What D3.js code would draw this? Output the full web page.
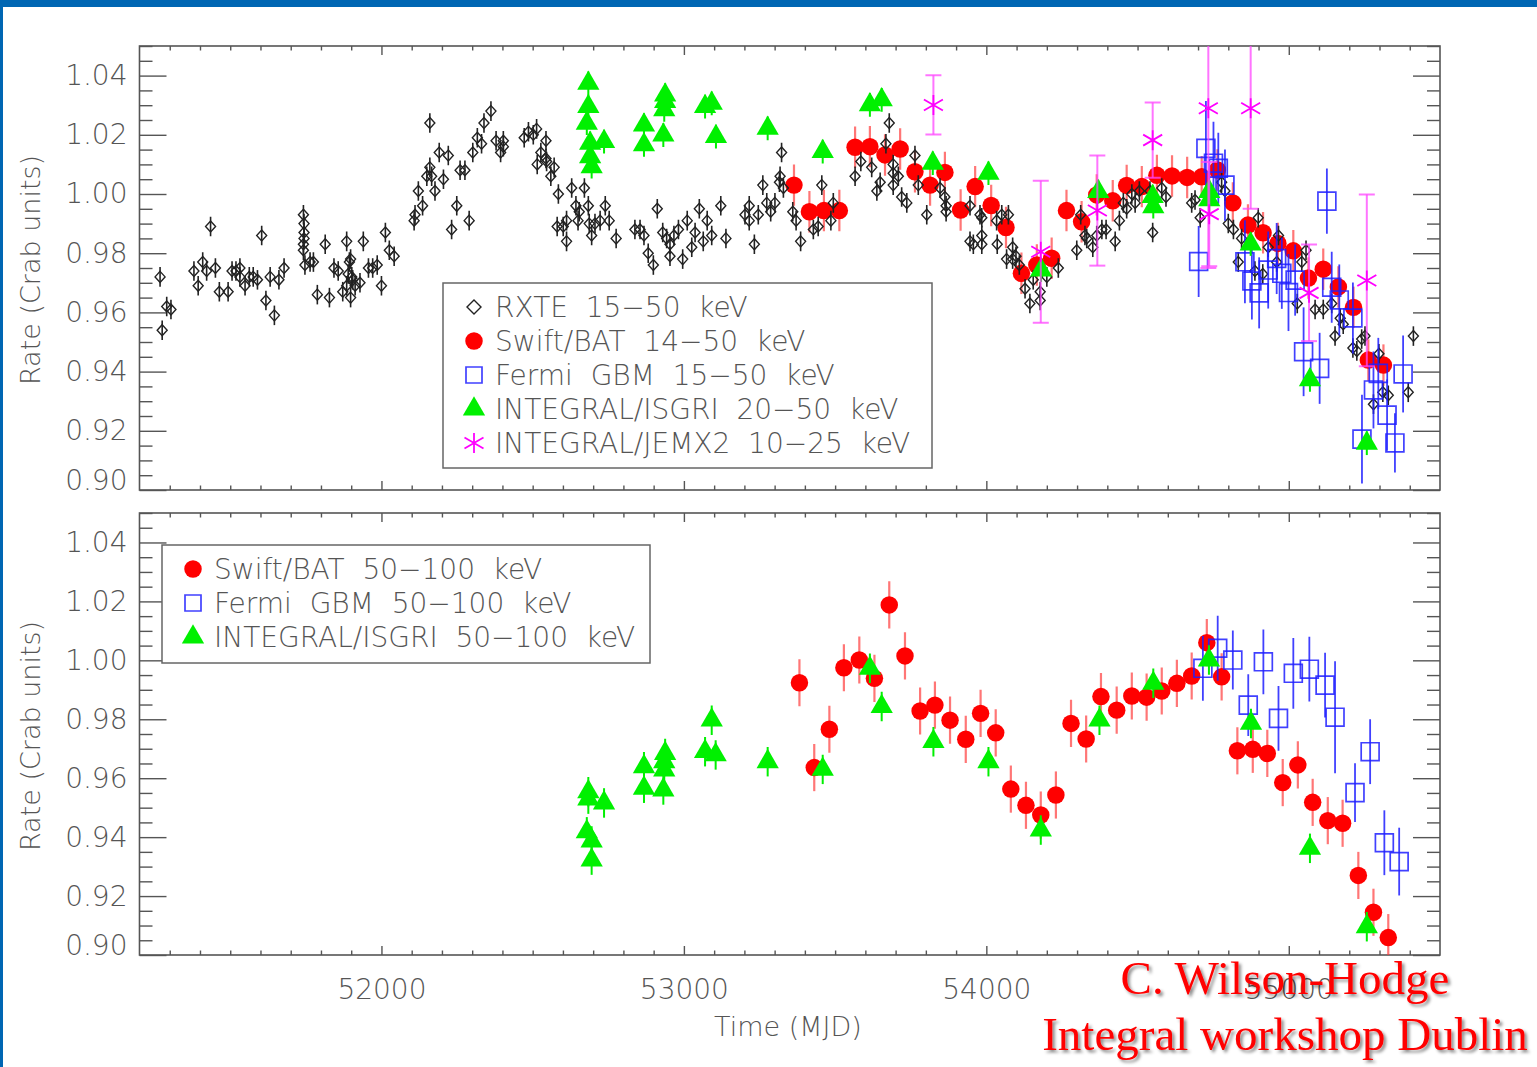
<!DOCTYPE html>
<html>
<head>
<meta charset="utf-8">
<script src="https://cdn.jsdelivr.net/npm/d3@7"></script>
<style>
  body { margin: 0; background: #fff; }
  svg { display: block; }
  text { font-family: "DejaVu Sans", "Liberation Sans", sans-serif; }
</style>
</head>
<body>
<svg id="chart" width="1537" height="1067"></svg>
<script>
// ---- data: [MJD, rate in Crab units] ----
const rxte15to50 = [
  [51268,0.972],[51275,0.954],[51290,0.962],[51304,0.961],[51380,0.974],[51394,0.969],[51409,0.977],
  [51422,0.974],[51435,0.989],[51451,0.975],[51464,0.967],[51493,0.967],[51506,0.974],[51519,0.974],
  [51532,0.975],[51532,0.972],[51549,0.969],[51563,0.972],[51576,0.972],[51590,0.971],[51604,0.986],
  [51618,0.964],[51632,0.972],[51646,0.959],[51661,0.971],[51678,0.975],[51742,0.993],[51744,0.990],
  [51744,0.987],[51744,0.985],[51742,0.983],[51742,0.981],[51747,0.976],[51764,0.977],[51775,0.977],
  [51788,0.966],[51814,0.983],[51828,0.965],[51843,0.975],[51857,0.974],[51872,0.967],[51885,0.984],
  [51885,0.969],[51894,0.977],[51898,0.978],[51890,0.973],[51902,0.972],[51905,0.971],[51898,0.965],
  [51913,0.969],[51929,0.970],[51940,0.984],[51957,0.975],[51971,0.975],[51986,0.976],[52000,0.969],
  [52013,0.987],[52026,0.981],[52042,0.979],[52108,0.991],[52111,0.993],[52122,1.001],[52136,0.996],
  [52150,1.006],[52160,1.024],[52160,1.009],[52166,1.006],[52177,1.001],[52191,1.014],[52205,1.005],
  [52221,1.013],[52232,0.988],[52249,0.996],[52260,1.008],[52276,1.008],[52290,0.991],[52302,1.014],
  [52317,1.019],[52331,1.017],[52339,1.024],[52362,1.028],[52379,1.018],[52394,1.014],[52403,1.018],
  [52403,1.016],[52472,1.019],[52486,1.021],[52502,1.020],[52513,1.022],[52515,1.010],[52527,1.014],
  [52544,1.018],[52544,1.012],[52546,1.011],[52560,1.006],[52571,1.009],[52585,1.000],[52581,0.989],
  [52601,0.989],[52612,0.991],[52612,0.984],[52629,1.002],[52643,0.996],[52650,0.991],[52654,0.994],
  [52671,1.002],[52684,0.996],[52687,0.990],[52695,0.986],[52706,0.990],[52723,0.991],[52740,0.996],
  [52753,0.991],[52776,0.985],[52838,0.988],[52855,0.988],[52868,0.986],[52882,0.980],[52899,0.976],
  [52912,0.995],[52930,0.987],[52943,0.985],[52954,0.983],[52954,0.979],[52967,0.986],[52982,0.988],
  [52996,0.978],[53011,0.991],[53026,0.982],[53037,0.987],[53051,0.995],[53064,0.984],[53077,0.991],
  [53092,0.986],[53122,0.996],[53139,0.985],[53202,0.993],[53216,0.996],[53216,0.991],[53233,0.983],
  [53246,0.993],[53261,1.003],[53274,0.997],[53287,0.994],[53301,0.997],[53316,1.004],[53318,1.006],
  [53323,1.014],[53329,1.002],[53360,0.994],[53371,0.991],[53386,0.984],[53428,0.988],[53444,0.989],
  [53456,1.003],[53486,0.991],[53494,0.997],[53566,1.006],[53585,1.011],[53621,1.009],[53638,1.001],
  [53649,1.004],[53668,1.017],[53679,1.024],[53692,1.010],[53692,1.007],[53692,1.003],[53709,1.006],
  [53720,0.999],[53737,0.997],[53764,1.013],[53775,1.003],[53803,0.993],[53847,1.002],[53863,0.999],
  [53867,0.996],[53867,0.994],[53946,0.996],[53946,0.984],[53957,0.983],[53979,0.993],[53985,0.992],
  [53985,0.986],[53985,0.983],[54034,0.991],[54036,0.983],[54051,0.993],[54073,0.993],[54067,0.978],
  [54087,0.982],[54087,0.978],[54098,0.979],[54109,0.976],[54128,0.968],[54144,0.963],[54155,0.971],
  [54178,0.967],[54178,0.964],[54200,0.972],[54238,0.975],[54299,0.981],[54312,0.993],[54326,0.986],
  [54332,0.985],[54352,0.982],[54365,0.986],[54382,0.988],[54396,0.988],[54426,0.984],[54440,0.991],
  [54453,0.997],[54464,0.995],[54481,1.000],[54492,0.997],[54506,1.001],[54541,1.001],[54550,0.987],
  [54580,1.002],[54594,0.999],[54679,0.997],[54690,0.998],[54707,0.992],[54778,1.004],[54789,1.001],
  [54800,0.990],[54817,0.988],[54833,0.977],[54844,0.985],[54888,0.974],[54899,0.992],[54914,0.973],
  [54932,0.982],[54960,0.977],[54966,0.986],[55028,0.963],[55043,0.977],[55057,0.981],[55087,0.961],
  [55114,0.961],[55142,0.963],[55153,0.952],[55170,0.958],[55180,0.956],[55212,0.948],[55225,0.947],
  [55241,0.951],[55252,0.952],[55280,0.929],[55298,0.946],[55311,0.933],[55329,0.932],[55395,0.933],
  [55412,0.952]
];
const rxteErr = 0.0033;

const swift14to50 = [
  [53364,1.0030],[53415,0.9940],[53463,0.9944],[53514,0.9944],[53566,1.0158],[53615,1.0160],
  [53665,1.0132],[53715,1.0152],[53764,1.0075],[53814,1.0030],[53863,1.0073],[53915,0.9946],
  [53963,1.0025],[54016,0.9961],[54065,0.9887],[54116,0.9732],[54167,0.9760],[54216,0.9783],
  [54265,0.9944],[54315,0.9906],[54365,0.9997],[54418,0.9977],[54464,1.0029],[54514,1.0025],
  [54564,1.0063],[54614,1.0061],[54664,1.0056],[54712,1.0058],[54764,1.0081],[54815,0.9970],
  [54865,0.9895],[54915,0.9869],[54964,0.9833],[55015,0.9808],[55065,0.9716],[55114,0.9746],
  [55164,0.9686],[55214,0.9617],[55263,0.9439],[55313,0.9422]
];
const swift14to50Err = 0.007;

// [MJD, rate, error]
const fermi15to50 = [
  [54702,0.9772,0.012],[54726,1.0154,0.016],[54751,1.0104,0.014],[54767,1.0087,0.012],
  [54789,1.0030,0.012],[54855,0.9771,0.014],[54878,0.9706,0.013],[54902,0.9666,0.012],
  [54932,0.9743,0.013],[54960,0.9782,0.012],[54977,0.9732,0.012],[54999,0.9667,0.013],
  [55021,0.9709,0.012],[55049,0.9467,0.015],[55102,0.9411,0.012],[55126,0.9976,0.011],
  [55142,0.9685,0.012],[55167,0.9642,0.012],[55212,0.9581,0.012],[55242,0.9172,0.015],
  [55280,0.9338,0.013],[55296,0.9394,0.012],[55325,0.9253,0.012],[55351,0.9159,0.010],
  [55378,0.9392,0.013]
];

const isgri20to50 = [
  [52684,1.0374],[52684,1.0295],[52679,1.0239],[52690,1.0171],[52690,1.0126],[52695,1.0092],
  [52736,1.0177],[52868,1.0233],[52868,1.0166],[52938,1.0334],[52938,1.0312],[52935,1.0284],
  [52932,1.0199],[53070,1.0295],[53092,1.0306],[53106,1.0194],[53277,1.0222],[53459,1.0143],
  [53615,1.0301],[53654,1.0318],[53823,1.0104],[54007,1.0070],[54181,0.9743],[54370,1.0008],
  [54550,0.9991],[54552,0.9957],[54737,1.0008],[54737,0.9980],[54874,0.9831],[55070,0.9372],
  [55258,0.9158]
];
const isgri20to50Err = 0.004;

// [MJD, rate, error]
const jemx10to25 = [
  [53825,1.0301,0.010],[54180,0.9805,0.024],[54367,0.9944,0.0186],[54550,1.0182,0.0127],
  [54734,1.0290,0.054],[54737,0.9932,0.0176],[54874,1.0290,0.034],[55067,0.9666,0.0163],
  [55258,0.9708,0.029]
];

const swift50to100 = [
  [53382,0.9924],[53431,0.9636],[53481,0.9766],[53529,0.9975],[53580,1.0001],[53630,0.9939],
  [53679,1.0188],[53731,1.0015],[53781,0.9828],[53830,0.9848],[53880,0.9797],[53932,0.9732],
  [53981,0.9820],[54031,0.9754],[54081,0.9563],[54131,0.9508],[54180,0.9475],[54230,0.9543],
  [54280,0.9786],[54330,0.9733],[54379,0.9877],[54431,0.9831],[54481,0.9879],[54530,0.9875],
  [54580,0.9896],[54630,0.9922],[54679,0.9947],[54729,1.0060],[54778,0.9944],[54830,0.9693],
  [54881,0.9698],[54929,0.9684],[54980,0.9585],[55030,0.9645],[55079,0.9518],[55129,0.9456],
  [55178,0.9447],[55230,0.9270],[55280,0.9145],[55329,0.9059]
];
const swift50to100Err = 0.008;

// [MJD, rate, error]
const fermi50to100 = [
  [54716,0.9973,0.011],[54765,1.0041,0.011],[54815,1.0001,0.010],[54866,0.9848,0.0105],
  [54916,0.9995,0.011],[54966,0.9803,0.011],[55015,0.9956,0.012],[55068,0.9970,0.011],
  [55120,0.9916,0.011],[55153,0.9807,0.019],[55219,0.9551,0.010],[55269,0.9690,0.011],
  [55316,0.9381,0.011],[55365,0.9317,0.0115]
];

const isgri50to100 = [
  [52684,0.9554],[52684,0.9529],[52736,0.9516],[52679,0.9418],[52695,0.9387],[52695,0.9322],
  [52868,0.9639],[52868,0.9566],[52938,0.9684],[52935,0.9656],[52935,0.9628],[52932,0.9560],
  [53092,0.9797],[53070,0.9690],[53105,0.9679],[53277,0.9656],[53459,0.9630],[53615,0.9973],
  [53654,0.9843],[53825,0.9724],[54007,0.9656],[54180,0.9424],[54374,0.9797],[54552,0.9922],
  [54736,1.0001],[54875,0.9786],[55070,0.9362],[55258,0.9096]
];
const isgri50to100Err = 0.005;

const xMajorTicks = [52000, 53000, 54000, 55000];
const yMajorTicks = [0.90, 0.92, 0.94, 0.96, 0.98, 1.00, 1.02, 1.04];
const topLegend = ['RXTE  15\u221250  keV', 'Swift/BAT  14\u221250  keV', 'Fermi  GBM  15\u221250  keV',
  'INTEGRAL/ISGRI  20\u221250  keV', 'INTEGRAL/JEMX2  10\u221225  keV'];
const bottomLegend = ['Swift/BAT  50\u2212100  keV', 'Fermi  GBM  50\u2212100  keV', 'INTEGRAL/ISGRI  50\u2212100  keV'];
const credits = ['C. Wilson-Hodge', 'Integral workshop Dublin'];

// ---- drawing ----
const w = 1537;
const h = 1067;
const left = 139.5;
const right = 1440;
const axisColor = '#555';

const svg = d3.select('#chart');
svg.append('rect').attr('width', w).attr('height', h).attr('fill', '#fff');
// slide frame
svg.append('rect').attr('x', 0).attr('y', 0).attr('width', w).attr('height', 7).attr('fill', '#0066b3');
svg.append('rect').attr('x', 0).attr('y', 0).attr('width', 3).attr('height', h).attr('fill', '#0066b3');

const defs = svg.append('defs');
defs.append('filter')
	.attr('id', 'credit-shadow')
	.attr('x', '-10%').attr('y', '-30%').attr('width', '120%').attr('height', '160%')
	.append('feDropShadow')
	.attr('dx', 2.5).attr('dy', 2.5).attr('stdDeviation', 1.6)
	.attr('flood-color', '#000').attr('flood-opacity', 0.45);

const x = d3.scaleLinear().domain([51200, 55500]).range([left, right]);
const xMinor = d3.range(51300, 55500, 100).filter(d => d % 1000 !== 0);
const yMinor = d3.range(0, 31).map(i => +(0.9 + i * 0.005).toFixed(3)).filter(d => !yMajorTicks.includes(d));

const colors = {
	red: '#ff0000',
	redErr: 'rgba(255,60,60,0.7)',
	blue: 'rgba(30,30,255,0.85)',
	green: '#00f000',
	magenta: '#ff00ff',
	magentaErr: 'rgba(255,70,255,0.75)'
};

const sym = {
	circle: d3.symbol(d3.symbolCircle, 240)(),
	square: d3.symbol(d3.symbolSquare, 320)(),
	triangle: d3.symbol(d3.symbolTriangle, 215)(),
	diamond: 'M0,-5.5L5,0L0,5.5L-5,0Z',
	star: 'M0,-10V10M-9.5,-5.5L9.5,5.5M-9.5,5.5L9.5,-5.5'
};

function styleAxis(sel, labels) {
	sel.select('.domain').remove();
	sel.selectAll('line').attr('stroke', axisColor).attr('stroke-width', 1.4);
	sel.selectAll('text')
		.attr('fill', labels ? axisColor : 'none')
		.style('font-size', '28px')
		.style('font-weight', 200);
}

function makePanel(id, top, bottom, showXLabels) {
	const y = d3.scaleLinear().domain([0.9, 1.05]).range([bottom, top]);
	const g = svg.append('g').attr('id', id);

	g.append('clipPath').attr('id', id + '-clip')
		.append('rect').attr('x', left).attr('y', top).attr('width', right - left).attr('height', bottom - top);

	// x axes (bottom and top), ticks point inward
	g.append('g').attr('transform', `translate(0,${bottom})`)
		.call(d3.axisBottom(x).tickValues(xMajorTicks).tickSize(-9).tickPadding(24).tickFormat(d3.format('d')))
		.call(s => styleAxis(s, showXLabels));
	g.append('g').attr('transform', `translate(0,${bottom})`)
		.call(d3.axisBottom(x).tickValues(xMinor).tickSize(-4.5).tickFormat(''))
		.call(s => styleAxis(s, false));
	g.append('g').attr('transform', `translate(0,${top})`)
		.call(d3.axisTop(x).tickValues(xMajorTicks).tickSize(-9).tickFormat(''))
		.call(s => styleAxis(s, false));
	g.append('g').attr('transform', `translate(0,${top})`)
		.call(d3.axisTop(x).tickValues(xMinor).tickSize(-4.5).tickFormat(''))
		.call(s => styleAxis(s, false));

	// y axes (left and right)
	const yl = g.append('g').attr('transform', `translate(${left},0)`)
		.call(d3.axisLeft(y).tickValues(yMajorTicks).tickSize(-27).tickPadding(12).tickFormat(d3.format('.2f')))
		.call(s => styleAxis(s, true));
	yl.selectAll('.tick text').filter(d => d === 0.9).attr('transform', 'translate(0,-9)');
	g.append('g').attr('transform', `translate(${left},0)`)
		.call(d3.axisLeft(y).tickValues(yMinor).tickSize(-13).tickFormat(''))
		.call(s => styleAxis(s, false));
	g.append('g').attr('transform', `translate(${right},0)`)
		.call(d3.axisRight(y).tickValues(yMajorTicks).tickSize(-27).tickFormat(''))
		.call(s => styleAxis(s, false));
	g.append('g').attr('transform', `translate(${right},0)`)
		.call(d3.axisRight(y).tickValues(yMinor).tickSize(-13).tickFormat(''))
		.call(s => styleAxis(s, false));

	g.append('rect')
		.attr('x', left).attr('y', top).attr('width', right - left).attr('height', bottom - top)
		.attr('fill', 'none').attr('stroke', axisColor).attr('stroke-width', 1.6);

	g.append('text')
		.attr('transform', `translate(30,${(top + bottom) / 2 + 2}) rotate(-90)`)
		.attr('text-anchor', 'middle')
		.attr('dominant-baseline', 'central')
		.attr('fill', axisColor)
		.style('font-size', '27px')
		.style('font-weight', 200)
		.text('Rate (Crab units)');

	const plot = g.append('g').attr('clip-path', `url(#${id}-clip)`);
	return {g, y, plot};
}

function drawSeries(panel, data, opt) {
	const {y, plot} = panel;
	const layer = plot.append('g');
	const err = d => (d[2] !== undefined ? d[2] : opt.err);

	layer.selectAll('line.err')
		.data(data)
		.join('line')
		.attr('class', 'err')
		.attr('x1', d => x(d[0]))
		.attr('x2', d => x(d[0]))
		.attr('y1', d => y(d[1] - err(d)))
		.attr('y2', d => y(d[1] + err(d)))
		.attr('stroke', opt.errColor)
		.attr('stroke-width', opt.errWidth || 2);

	if (opt.cap) {
		[-1, 1].forEach(sign => {
			layer.selectAll(`line.cap${sign}`)
				.data(data)
				.join('line')
				.attr('class', `cap${sign}`)
				.attr('x1', d => x(d[0]) - opt.cap)
				.attr('x2', d => x(d[0]) + opt.cap)
				.attr('y1', d => y(d[1] + sign * err(d)))
				.attr('y2', d => y(d[1] + sign * err(d)))
				.attr('stroke', opt.errColor)
				.attr('stroke-width', opt.errWidth || 2);
		});
	}

	layer.selectAll('path.mark')
		.data(data)
		.join('path')
		.attr('class', 'mark')
		.attr('transform', d => `translate(${x(d[0])},${y(d[1])})`)
		.attr('d', opt.symbol)
		.attr('fill', opt.fill || 'none')
		.attr('stroke', opt.stroke || 'none')
		.attr('stroke-width', opt.strokeWidth || 1.5);
}

function drawLegend(panel, bx, by, bw, bh, items) {
	const lg = panel.g.append('g');
	lg.append('rect')
		.attr('x', bx).attr('y', by).attr('width', bw).attr('height', bh)
		.attr('fill', '#fff').attr('stroke', '#666').attr('stroke-width', 1.5);
	items.forEach((it, i) => {
		const cy = by + 24 + i * 34;
		lg.append('path')
			.attr('transform', `translate(${bx + 31},${cy})`)
			.attr('d', it.symbol)
			.attr('fill', it.fill || 'none')
			.attr('stroke', it.stroke || 'none')
			.attr('stroke-width', it.strokeWidth || 1.5);
		lg.append('text')
			.attr('x', bx + 52)
			.attr('y', cy)
			.attr('dominant-baseline', 'central')
			.attr('fill', axisColor)
			.attr('xml:space', 'preserve')
			.style('white-space', 'pre')
			.style('font-size', '28px')
			.style('font-weight', 200)
			.text(it.label);
	});
}

const styles = {
	rxte: {symbol: sym.diamond, stroke: '#222', strokeWidth: 1.4, errColor: '#222', errWidth: 1.6, err: rxteErr},
	swift: {symbol: sym.circle, fill: colors.red, errColor: colors.redErr, errWidth: 2.2},
	fermi: {symbol: sym.square, stroke: colors.blue, strokeWidth: 1.7, errColor: colors.blue, errWidth: 1.8},
	isgri: {symbol: sym.triangle, fill: colors.green, errColor: colors.green, errWidth: 2},
	jemx: {symbol: sym.star, stroke: colors.magenta, strokeWidth: 1.8, errColor: colors.magentaErr, errWidth: 2, cap: 8}
};

// top panel
const topPanel = makePanel('top', 46, 490, false);
drawSeries(topPanel, swift14to50, {...styles.swift, err: swift14to50Err});
drawSeries(topPanel, rxte15to50, styles.rxte);
drawSeries(topPanel, fermi15to50, styles.fermi);
drawSeries(topPanel, isgri20to50, {...styles.isgri, err: isgri20to50Err});
drawSeries(topPanel, jemx10to25, styles.jemx);

drawLegend(topPanel, 443, 283, 489, 185, [
	{...styles.rxte, symbol: 'M0,-7L7,0L0,7L-7,0Z', label: topLegend[0]},
	{...styles.swift, label: topLegend[1]},
	{...styles.fermi, symbol: d3.symbol(d3.symbolSquare, 256)(), label: topLegend[2]},
	{...styles.isgri, label: topLegend[3]},
	{...styles.jemx, label: topLegend[4]}
]);

// bottom panel
const bottomPanel = makePanel('bottom', 513, 955, true);
drawSeries(bottomPanel, swift50to100, {...styles.swift, err: swift50to100Err});
drawSeries(bottomPanel, fermi50to100, styles.fermi);
drawSeries(bottomPanel, isgri50to100, {...styles.isgri, err: isgri50to100Err});

drawLegend(bottomPanel, 162, 545, 488, 118, [
	{...styles.swift, label: bottomLegend[0]},
	{...styles.fermi, symbol: d3.symbol(d3.symbolSquare, 256)(), label: bottomLegend[1]},
	{...styles.isgri, label: bottomLegend[2]}
]);

svg.append('text')
	.attr('x', 788)
	.attr('y', 1026)
	.attr('text-anchor', 'middle')
	.attr('dominant-baseline', 'central')
	.attr('fill', axisColor)
	.style('font-size', '27px')
	.style('font-weight', 200)
	.text('Time (MJD)');

// credit text over the 55000 label, with a soft shadow
const creditY = [994, 1050];
credits.forEach((t, i) => {
	svg.append('text')
		.attr('x', 1285)
		.attr('y', creditY[i])
		.attr('text-anchor', 'middle')
		.attr('fill', '#ff0000')
		.attr('filter', 'url(#credit-shadow)')
		.style('font-family', '"Liberation Serif", "DejaVu Serif", serif')
		.style('font-size', '47px')
		.text(t);
});
</script>
</body>
</html>
